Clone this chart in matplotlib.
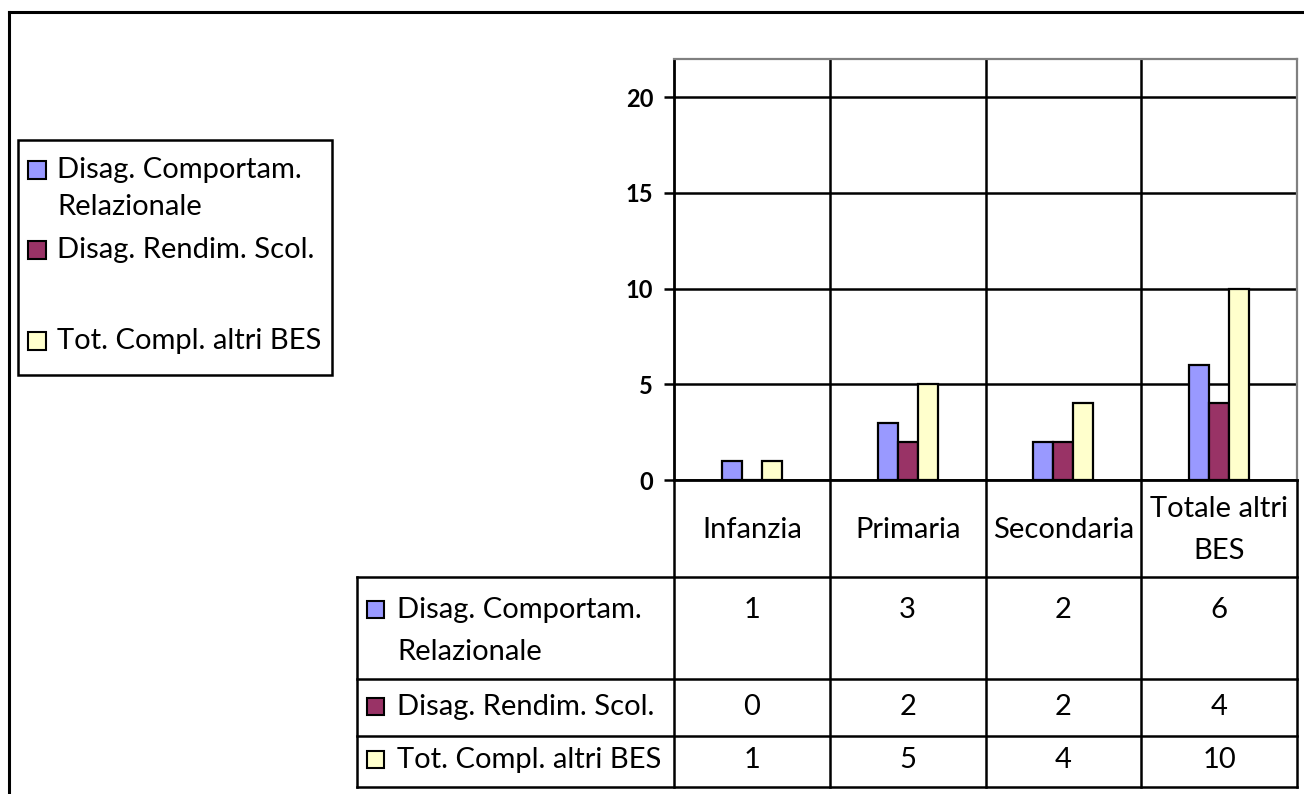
import matplotlib
matplotlib.use("Agg")
import matplotlib.pyplot as plt
import matplotlib.transforms as mtransforms
from matplotlib.patches import Rectangle
import numpy as np

# Data
categories = ["Infanzia", "Primaria", "Secondaria", "Totale altri\nBES"]
series_names = ["Disag. Comportam.\nRelazionale", "Disag. Rendim. Scol.", "Tot. Compl. altri BES"]
comportam = [1, 3, 2, 6]
rendimento = [0, 2, 2, 4]
tot_compl = [1, 5, 4, 10]
colors = ["#9999FF", "#993366", "#FFFFCC"]
yticks = [0, 5, 10, 15, 20]

plt.rcParams["font.family"] = ["Lato", "DejaVu Sans"]
FS = 21

W, H = 1304, 794
fig = plt.figure(figsize=(W / 100, H / 100), dpi=100)


def box(l, t, r, b):
    return [l / W, 1 - b / H, (r - l) / W, (b - t) / H]


# pixel canvas for frame, legend and table
bg = fig.add_axes([0, 0, 1, 1], zorder=0)
bg.set_xlim(0, W)
bg.set_ylim(H, 0)
bg.axis("off")

ax = fig.add_axes(box(674, 59, 1297, 480), zorder=1)
series = [comportam, rendimento, tot_compl]
x = np.arange(len(categories))
wbar = 0.128
for i, (vals, c) in enumerate(zip(series, colors)):
    ax.bar(x + (i - 1) * wbar, vals, wbar, color=c, edgecolor="black",
           linewidth=1.6, zorder=3)

ax.set_xlim(-0.5, len(categories) - 0.5)
ax.set_ylim(0, 22)
ax.set_yticks(yticks)
ax.set_yticklabels([str(t) for t in yticks], fontsize=FS - 4, fontweight="bold")
ax.yaxis.grid(True, color="black", linewidth=1.8)
ax.set_axisbelow(True)
for xv in x[:-1] + 0.5:
    ax.axvline(xv, color="black", linewidth=1.8, zorder=2)
ax.set_xticks([])
ax.tick_params(axis="y", length=7, width=1.8, pad=8)
ax.spines["left"].set_linewidth(2)
ax.spines["bottom"].set_linewidth(2)
for s in ("top", "right"):
    ax.spines[s].set_color("#808080")
    ax.spines[s].set_linewidth(1.6)

# outer frame
bg.plot([9, 9], [12, H], color="black", linewidth=2.2, clip_on=False)
bg.plot([9, W], [12, 12], color="black", linewidth=2.2, clip_on=False)

# legend
bg.add_patch(Rectangle((18, 140), 314, 235, fill=False, edgecolor="black", linewidth=1.8))
legend_y = [170, 250, 341]
for name, c, ly in zip(series_names, colors, legend_y):
    bg.add_patch(Rectangle((28, ly - 9), 18, 18, facecolor=c, edgecolor="black", linewidth=1.5))
    for j, line in enumerate(name.split("\n")):
        bg.text(57, ly + j * 37, line, fontsize=FS, va="center", ha="left")

# data table
tr = mtransforms.blended_transform_factory(ax.transData, bg.transData)
edges = np.arange(len(categories) + 1) - 0.5
for xe in edges:
    bg.plot([xe, xe], [480, 787], color="black", linewidth=1.8, transform=tr, clip_on=False)
bg.plot([357, 357], [577, 787], color="black", linewidth=1.8, clip_on=False)
for yl in [577, 679, 736, 787]:
    bg.plot([357, 1297], [yl, yl], color="black", linewidth=1.8, clip_on=False)

for xi, cat in zip(x, categories):
    bg.text(xi, 530, cat, fontsize=FS, ha="center", va="center",
            linespacing=1.75, transform=tr)

row_y = [610, 707, 760]
for name, c, vals, ry in zip(series_names, colors, series, row_y):
    bg.add_patch(Rectangle((367, ry - 9), 17, 17, facecolor=c, edgecolor="black", linewidth=1.5))
    for j, line in enumerate(name.split("\n")):
        bg.text(397, ry + j * 42, line, fontsize=FS, va="center", ha="left")
    for xi, v in zip(x, vals):
        bg.text(xi, ry, str(v), fontsize=FS, ha="center", va="center", transform=tr)

fig.savefig("out.png", dpi=100)
